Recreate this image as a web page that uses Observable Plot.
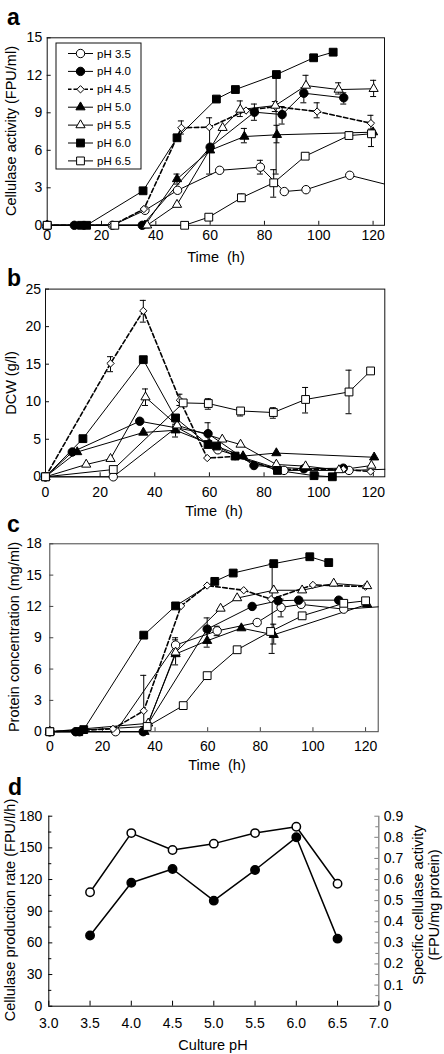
<!DOCTYPE html>
<html><head><meta charset="utf-8">
<script src="https://cdn.jsdelivr.net/npm/d3@7"></script>
<script src="https://cdn.jsdelivr.net/npm/@observablehq/plot@0.6"></script>
<style>
body{margin:0;background:#fff;}
#wrap{position:relative;width:444px;height:1054px;overflow:hidden;background:#fff;font-family:'Liberation Sans',Arial,sans-serif;}
</style></head><body><div id="wrap"></div>
<script>
// ---------- DATA ----------
const series = ["pH 3.5","pH 4.0","pH 4.5","pH 5.0","pH 5.5","pH 6.0","pH 6.5"];
const timeTicks = [0,20,40,60,80,100,120];

// Panel a: cellulase activity (FPU/ml) vs time (h); one list per pH, order as `series`
const activity = [
  [[0,0],[24,0],[36,1.2],[48,2.8],[63.5,4.4],[78.5,4.65],[87.3,2.7],[95.3,2.85],[111.4,4.0]],
  [[0,0],[10,0],[35,0],[60,6.25],[76.3,9.05],[86.5,8.86],[94.5,10.57],[109.2,10.2]],
  [[0,0],[24,0],[35.6,1.3],[49.4,7.8],[59.7,7.85],[73.2,9.18],[84,9.5],[99.4,9.1],[119.2,8.17]],
  [[0,0],[36,0],[47.8,3.7],[60,6.0],[72.6,7.1],[84.6,7.24],[120,7.45]],
  [[0,0],[36.8,0],[47.8,1.65],[64.6,7.8],[71.1,9.26],[84,9.58],[95.3,11.18],[107.3,10.86],[120.2,10.92]],
  [[0,0],[12.6,0],[14.5,0],[35.3,2.76],[47.8,7.0],[62.3,10.1],[69.3,10.86],[84.4,12.06],[98.1,13.4],[105.3,13.85]],
  [[0,0],[24.9,0],[50.6,0],[59.5,0.65],[71.5,2.2],[83.4,3.4],[95,5.53],[111.1,7.18],[119.4,7.32]]
];
const activityTail = [[[124.2,3.3]],[],[],[],[],[],[]];
const activityErr = [
  [47.8,3.3,4.1],[49.4,7.3,8.35],[59.8,4.1,8.6],[71.1,8.7,9.95],[71.5,1.9,2.5],[72.6,6.6,7.75],
  [76.3,8.4,9.7],[78.5,4.1,5.2],[83.4,2.25,4.45],[84.3,4.1,12.0],[84.6,6.6,8.0],[84,9.1,9.9],
  [86.5,8.1,9.5],[94.5,9.8,11.0],[95.3,10.5,12.0],[99.4,8.6,9.8],[107.3,10.5,11.4],[109.2,9.7,10.6],
  [111.1,6.9,7.5],[119.2,7.6,8.8],[119.4,6.3,7.7],[120.2,10.3,11.6]
];
const activityTicks = [0,3,6,9,12,15];

// Panel b: dry cell weight (g/l)
const dcw = [
  [[0,0],[24.8,0],[48,6.6],[63.1,3.6],[87.3,0.85],[111.1,0.85]],
  [[0,0],[9.8,3.3],[34.5,7.4],[59.5,5.75],[76.3,1.5],[94.6,1.07],[109,1.15]],
  [[0,0],[23.8,15.1],[35.8,22.1],[49.2,10.2],[59.2,2.5],[69.4,2.7],[84.5,1.0],[109,1.0],[119,0.7]],
  [[0,0],[11.6,3.3],[35.8,5.9],[47.6,6.2],[60,4.4],[72.3,2.76],[84.5,3.16],[120.3,2.6]],
  [[0,0],[14.9,1.64],[23.8,2.4],[36.6,10.6],[48.2,6.86],[64.7,4.98],[71.4,4.3],[84.5,1.64],[95.2,1.42],[107.4,0.9],[119.3,1.5]],
  [[0,0],[13.7,5.08],[35.8,15.6],[47.6,7.84],[59.5,4.3],[62.6,4.1],[69.4,2.76],[84.9,0.85],[98.3,0.15],[105,0]],
  [[0,0],[24.8,0.97],[50.4,9.84],[59.6,9.76],[71.4,8.77],[83.4,8.56],[95.2,10.3],[111.1,11.3],[119,14.1]]
];
const dcwTail = [[[124.2,1.0]],[],[],[],[],[],[]];
const dcwErr = [
  [23.8,14.0,16.0],[35.8,20.6,23.5],[36.6,9.5,11.7],[49.2,9.5,11.0],[47.6,5.3,7.0],[59.5,4.5,7.2],
  [59.6,9.0,10.4],[71.4,8.1,9.1],[83.4,7.8,9.2],[95.2,8.5,11.9],[111.1,8.4,14.2]
];
const dcwTicks = [0,5,10,15,20,25];

// Panel c: protein concentration (mg/ml)
const protein = [
  [[0,0],[25,0],[47.8,8.3],[63.6,9.66],[78.8,10.46],[87.9,11.9],[95.5,12.2],[111.7,11.74]],
  [[0,0],[9.8,0],[11.3,0],[35.5,0],[59.8,9.83],[76.9,12.0],[86.7,12.54],[94.6,12.6],[109.8,12.6]],
  [[0,0],[24,0.27],[35.7,2.0],[49.9,12.05],[59.8,14.0],[73.7,13.55],[84.1,12.7],[100,14.06],[120,13.9]],
  [[0,0],[36,0],[47.8,7.44],[59.8,8.71],[72.8,9.92],[85.1,9.28],[120.6,12.2]],
  [[0,0],[37.4,0.8],[47.8,7.6],[64.9,11.8],[71.2,12.8],[85.1,13.55],[95.9,13.55],[107.9,14.2],[120.6,13.96]],
  [[0,0],[11,0],[12.9,0.2],[35.7,9.25],[47.8,12.05],[62.7,14.4],[69.7,15.2],[85.1,16.1],[98.8,16.76],[106,16.2]],
  [[0,0],[37,0.5],[50.7,2.5],[59.8,5.37],[71.2,7.85],[83.9,9.6],[95.9,11.1],[111.7,12.3],[120,12.54]]
];
const proteinTail = [[[124.8,11.96]],[],[],[],[],[],[]];
const proteinErr = [
  [35.7,0.5,5.4],[47.8,6.4,8.8],[47.8,7.6,9.0],[59.8,8.1,10.9],[84.5,7.5,16.1],[85.1,8.4,10.3],[87.9,11.0,12.7],[63.6,9.2,10.1]
];
const proteinTicks = [0,3,6,9,12,15,18];

// Panel d
const culturePH = [3.5,4.0,4.5,5.0,5.5,6.0,6.5];
const productionRate = [67,117,130,100,129,160,64];          // FPU/l/h (filled)
const specificActivity = [0.54,0.82,0.74,0.77,0.82,0.85,0.58]; // FPU/mg protein (open)
const phTicks = [3.0,3.5,4.0,4.5,5.0,5.5,6.0,6.5,7.0];
const rateTicks = [0,30,60,90,120,150,180];
const specTicks = [0,0.1,0.2,0.3,0.4,0.5,0.6,0.7,0.8,0.9];

// ---------- STYLE ----------
const markerSymbol = ["circle","circle","diamond2","triangle","triangle","square","square"];
const markerFill = ["white","black","white","black","white","black","white"];
const markerR = [4.2,4.2,3.3,3.4,3.4,4.4,4.4];
const font = "'Liberation Sans', Arial, Helvetica, sans-serif";
const baseStyle = {fontFamily: font, fontSize: "14px", color: "#000", background: "transparent", overflow: "visible"};

const wrap = document.getElementById("wrap");
function place(svg, top) {
  svg.style.position = "absolute"; svg.style.left = "0px"; svg.style.top = top + "px";
  wrap.appendChild(svg);
}

function timePanel(c) {
  const plotW = 444 - c.ml - c.mr, plotH = c.height - c.mt - c.mb;
  const xu = c.xMax / plotW, yu = c.yMax / plotH;
  const marks = [
    Plot.frame({stroke: c.frame}),
    Plot.ruleX(timeTicks, {x: d => d, y1: 0, y2: 4 * yu, stroke: c.frame}),
    Plot.ruleY(c.yTicks, {y: d => d, x1: 0, x2: 4 * xu, stroke: c.frame}),
    Plot.axisX(timeTicks, {tickSize: 0, tickPadding: c.xPad, label: null}),
    Plot.axisY(c.yTicks, {tickSize: 0, tickPadding: c.yPad, label: null})
  ];
  c.data.forEach((pts, i) => {
    const linePts = pts.concat(c.tails[i]).map(([t, v]) => ({t, v}));
    const opt = {x: "t", y: "v", stroke: "black", strokeWidth: i === 2 ? 1.6 : 1};
    if (i === 2) opt.strokeDasharray = "4.5,2.5";
    marks.push(Plot.line(linePts, opt));
  });
  const cap = 3 * xu;
  marks.push(Plot.ruleX(c.errs, {x: d => d[0], y1: d => d[1], y2: d => d[2], stroke: "black"}));
  marks.push(Plot.ruleY(c.errs, {y: d => d[1], x1: d => d[0] - cap, x2: d => d[0] + cap, stroke: "black"}));
  marks.push(Plot.ruleY(c.errs, {y: d => d[2], x1: d => d[0] - cap, x2: d => d[0] + cap, stroke: "black"}));
  c.data.forEach((pts, i) => {
    marks.push(Plot.dot(pts.map(([t, v]) => ({t, v})), {
      x: "t", y: "v", symbol: markerSymbol[i], fill: markerFill[i], stroke: "black", strokeWidth: 1, r: markerR[i]
    }));
  });
  const svg = Plot.plot({
    width: 444, height: c.height, marginTop: c.mt, marginBottom: c.mb, marginLeft: c.ml, marginRight: c.mr,
    x: {domain: [0, c.xMax]}, y: {domain: [0, c.yMax]},
    style: baseStyle, marks
  });
  place(svg, c.top);
}

timePanel({data: activity, tails: activityTail, errs: activityErr, yTicks: activityTicks, yMax: 15, xMax: 124.2,
  top: 0, height: 270, mt: 37.3, mb: 45.2, ml: 46.7, mr: 60, xPad: 5, yPad: 5, frame: "#111"});
timePanel({data: dcw, tails: dcwTail, errs: dcwErr, yTicks: dcwTicks, yMax: 25, xMax: 124.2,
  top: 270, height: 250, mt: 18.6, mb: 43.7, ml: 45, mr: 59.7, xPad: 10, yPad: 4.5, frame: "#111"});
timePanel({data: protein, tails: proteinTail, errs: proteinErr, yTicks: proteinTicks, yMax: 18, xMax: 124.8,
  top: 520, height: 260, mt: 23.3, mb: 48.8, ml: 49.3, mr: 66.3, xPad: 9.5, yPad: 8, frame: "#444"});

// Panel d
(function () {
  const ml = 48.3, mr = 65.7, mt = 35.7, mb = 48.3, H = 274;
  const xu = 4 / (444 - ml - mr), yu = 180 / (H - mt - mb);
  const k = 180 / 0.9; // right axis -> left axis units
  const rows = culturePH.map((ph, i) => ({ph, rate: productionRate[i], spec: specificActivity[i] * k}));
  const rateMinor = rateTicks.slice(0, -1).map(v => v + 15);
  const specMinor = specTicks.map(v => (v + 0.05) * k).filter(v => v < 180);
  const svg = Plot.plot({
    width: 444, height: H, marginTop: mt, marginBottom: mb, marginLeft: ml, marginRight: mr,
    x: {domain: [3, 7]}, y: {domain: [0, 180]},
    style: baseStyle,
    marks: [
      Plot.ruleX([3], {stroke: "#000"}),
      Plot.ruleX([7], {stroke: "#808080", strokeWidth: 1.3}),
      Plot.ruleY([0], {stroke: "#000"}),
      Plot.ruleX(phTicks, {x: d => d, y1: 0, y2: 5 * yu, stroke: "#000"}),
      Plot.ruleY(rateTicks, {y: d => d, x1: 3, x2: 3 + 4 * xu, stroke: "#000"}),
      Plot.ruleY(rateMinor, {y: d => d, x1: 3, x2: 3 + 3 * xu, stroke: "#000"}),
      Plot.ruleY(specTicks.map(v => v * k), {y: d => d, x1: 7 - 4 * xu, x2: 7, stroke: "#808080"}),
      Plot.ruleY(specMinor, {y: d => d, x1: 7 - 3 * xu, x2: 7, stroke: "#808080"}),
      Plot.axisX(phTicks, {tickSize: 0, tickPadding: 12, tickFormat: d3.format(".1f"), label: null}),
      Plot.axisY(rateTicks, {tickSize: 0, tickPadding: 6.5, label: null}),
      Plot.axisY(specTicks.map(v => v * k), {anchor: "right", tickSize: 0, tickPadding: 5, label: null,
        tickFormat: d => String(Math.round(d / 20) / 10)}),
      Plot.line(rows, {x: "ph", y: "spec", stroke: "black"}),
      Plot.line(rows, {x: "ph", y: "rate", stroke: "black"}),
      Plot.dot(rows, {x: "ph", y: "spec", symbol: "circle", fill: "white", stroke: "black", r: 4.2}),
      Plot.dot(rows, {x: "ph", y: "rate", symbol: "circle", fill: "black", stroke: "black", r: 4.2})
    ]
  });
  place(svg, 780);
})();

// ---------- overlay: letters, titles, legend ----------
(function () {
  const ns = "http://www.w3.org/2000/svg";
  const svg = document.createElementNS(ns, "svg");
  svg.setAttribute("width", 444); svg.setAttribute("height", 1054);
  svg.style.position = "absolute"; svg.style.left = "0"; svg.style.top = "0";
  svg.style.fontFamily = font;
  let h = "";
  const letter = (t, x, y) => h += `<text x="${x}" y="${y}" font-size="23" font-weight="bold">${t}</text>`;
  letter("a", 7, 25); letter("b", 7, 286); letter("c", 7, 532); letter("d", 8, 795);
  const xt = (t, x, y) => h += `<text x="${x}" y="${y}" font-size="14.5" text-anchor="middle" xml:space="preserve">${t}</text>`;
  xt("Time  (h)", 216, 262); xt("Time  (h)", 214, 516); xt("Time  (h)", 217, 770); xt("Culture pH", 213, 1050);
  const yt = (t, x, y) => h += `<text transform="translate(${x},${y}) rotate(-90)" font-size="14.5" text-anchor="middle" dominant-baseline="central">${t}</text>`;
  yt("Cellulase activity (FPU/ml)", 11, 131);
  yt("DCW (g/l)", 11, 383);
  yt("Protein concentration (mg/ml)", 14, 637);
  yt("Cellulase production rate (FPU/l/h)", 10, 910);
  yt("Specific cellulase activity", 418, 905);
  yt("(FPU/mg protein)", 434, 905);
  // legend
  h += `<rect x="56" y="43" width="85" height="126" fill="white" stroke="#111" stroke-width="1"/>`;
  const symMap = {circle: d3.symbolCircle, diamond2: d3.symbolDiamond2, triangle: d3.symbolTriangle, square: d3.symbolSquare};
  series.forEach((s, i) => {
    const y = 53.5 + i * 17.9;
    h += `<line x1="68" x2="93" y1="${y}" y2="${y}" stroke="black" stroke-width="${i === 2 ? 1.6 : 1}" ${i === 2 ? 'stroke-dasharray="3.5,2"' : ''}/>`;
    const p = d3.symbol().type(symMap[markerSymbol[i]]).size(Math.PI * markerR[i] * markerR[i])();
    h += `<path transform="translate(80.5,${y})" d="${p}" fill="${markerFill[i]}" stroke="black"/>`;
    h += `<text x="97" y="${y}" dy="0.35em" font-size="11.5">${s}</text>`;
  });
  svg.innerHTML = h;
  wrap.appendChild(svg);
})();
</script></body></html>
